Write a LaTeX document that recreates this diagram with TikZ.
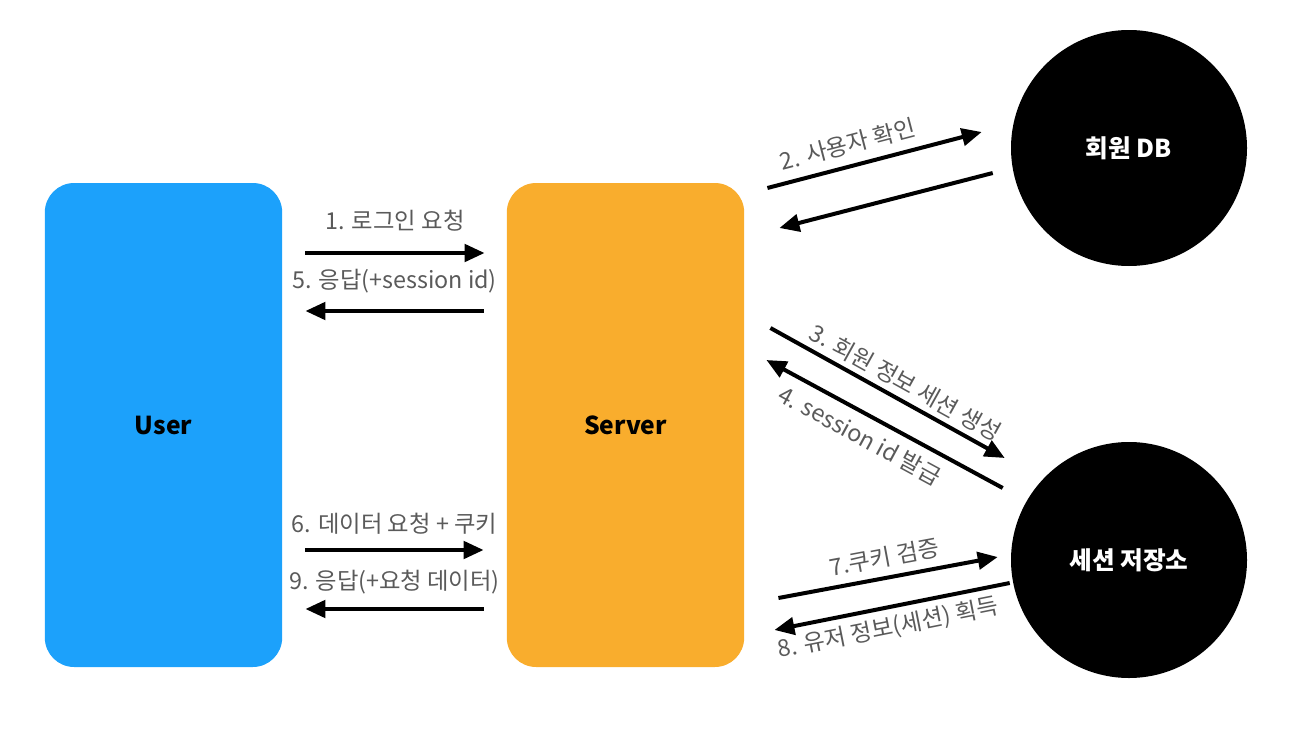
\documentclass[tikz,border=0pt]{standalone}
\usepackage{fontspec}
\setmainfont{Noto Sans CJK KR}
\usepackage{tikz}
\usetikzlibrary{shapes,arrows.meta,calc}
\usepackage{xcolor}
\definecolor{userblue}{HTML}{1CA1FB}
\definecolor{serverorange}{HTML}{F9AD2D}
\definecolor{labelgray}{HTML}{5A5A5A}

\begin{document}
\begin{tikzpicture}[x=0.75pt,y=-0.75pt]
	\tikzstyle{actor}=[rectangle,rounded corners=22pt,minimum width=178pt,minimum height=363pt,inner sep=0pt,font=\fontsize{18.5}{20}\selectfont\bfseries]
	\tikzstyle{store}=[circle,fill=black,minimum size=177pt,inner sep=0pt,text=white,font=\fontsize{18.5}{20}\selectfont\bfseries]
	\tikzstyle{msg}=[line width=3pt,-{Triangle[length=15pt,width=13pt]}]
	\tikzstyle{lbl}=[text=labelgray,font=\fontsize{17.5}{19}\selectfont,inner sep=2pt]

	\useasboundingbox (0,0) rectangle (1300,746);

	\node[actor,fill=userblue] (user) at (163.5,425) {User};
	\node[actor,fill=serverorange] (server) at (625.5,425) {Server};
	\node[store] (db) at (1129,148) {회원 DB};
	\node[store] (sess) at (1129,560) {세션 저장소};

	% user <-> server
	\draw[msg] ($(user.east)+(23,-172)$) -- ($(server.west)+(-22,-172)$) node[midway,above,lbl,yshift=13pt] {1. 로그인 요청};
	\draw[msg] ($(server.west)+(-23,-114)$) -- ($(user.east)+(23,-114)$) node[midway,above,lbl,yshift=10pt] {5. 응답(+session id)};
	\draw[msg] ($(user.east)+(23,125)$) -- ($(server.west)+(-23,125)$) node[midway,above,lbl,yshift=8pt] {6. 데이터 요청 + 쿠키};
	\draw[msg] ($(server.west)+(-23,184)$) -- ($(user.east)+(23,184)$) node[midway,above,lbl,yshift=8pt] {9. 응답(+요청 데이터)};

	% server <-> db
	\draw[msg] ($(server.east)+(23,-237)$) -- ($(db.west)+(-29,-16)$) node[pos=0.4,above,sloped,lbl,yshift=5pt] {2. 사용자 확인};
	\draw[msg] ($(db.west)+(-18,25)$) -- ($(server.east)+(35,-197)$);

	% server <-> session store
	\draw[msg] ($(server.east)+(26,-97)$) -- ($(sess.west)+(-6,-102)$) node[midway,above,sloped,lbl,xshift=8pt,yshift=2pt] {3. 회원 정보 세션 생성};
	\draw[msg] ($(sess.west)+(-8,-72)$) -- ($(server.east)+(22,-65)$) node[midway,below,sloped,lbl,xshift=-12pt,yshift=-5pt] {4. session id 발급};
	\draw[msg] ($(server.east)+(34,173)$) -- ($(sess.west)+(-13,-3)$) node[midway,above,sloped,lbl,yshift=4pt] {7.쿠키 검증};
	\draw[msg] ($(sess.west)+(-1,23)$) -- ($(server.east)+(30,205)$) node[midway,below,sloped,lbl,xshift=-6pt,yshift=-3pt] {8. 유저 정보(세션) 획득};

\end{tikzpicture}
\end{document}
